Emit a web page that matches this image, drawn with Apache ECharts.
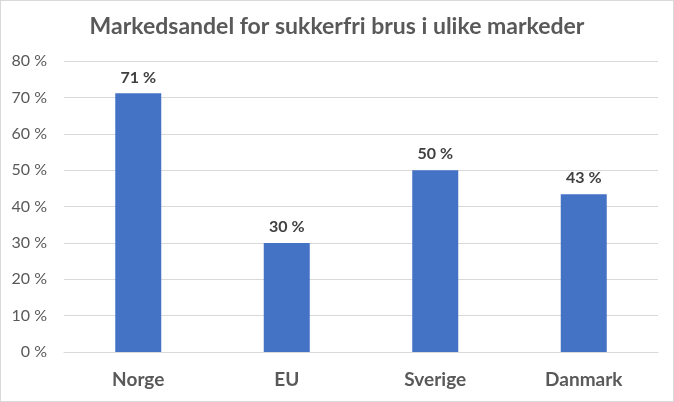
<!DOCTYPE html>
<html>
<head>
<meta charset="utf-8">
<script src="https://cdn.jsdelivr.net/npm/echarts@6/dist/echarts.min.js"></script>
<style>
  html, body { margin: 0; padding: 0; background: #fff; }
  #chart { width: 672px; height: 400px; border: 1px solid #d9d9d9; }
</style>
</head>
<body>
<div id="chart"></div>
<script>
// markets and share of sugar-free soda (percent)
const markets = ["Norge", "EU", "Sverige", "Danmark"];
const shares = [71.1, 30, 50, 43.4];
const shareLabels = ["71 %", "30 %", "50 %", "43 %"];

const chart = echarts.init(document.getElementById("chart"));
chart.setOption({
  animation: false,
  textStyle: { fontFamily: "Lato" },
  title: {
    text: "Markedsandel for sukkerfri brus i ulike markeder",
    left: "center",
    top: 9,
    textStyle: { fontSize: 23, fontWeight: "bold", color: "#595959", fontFamily: "Lato" }
  },
  grid: { left: 63, right: 15, top: 60, bottom: 49 },
  xAxis: {
    type: "category",
    data: markets,
    axisLine: { lineStyle: { color: "#d9d9d9" } },
    axisTick: { show: false },
    axisLabel: { fontSize: 19, fontWeight: "bold", color: "#595959", margin: 18 }
  },
  yAxis: {
    type: "value",
    min: 0,
    max: 80,
    interval: 10,
    axisLine: { show: false },
    axisTick: { show: false },
    splitLine: { lineStyle: { color: "#d9d9d9" } },
    axisLabel: { fontSize: 16, color: "#595959", margin: 17, formatter: v => v + " %" }
  },
  series: [{
    type: "bar",
    data: shares,
    barWidth: 46,
    itemStyle: { color: "#4472C4" },
    label: {
      show: true,
      position: "top",
      distance: 8,
      fontSize: 16,
      fontWeight: "bold",
      color: "#404040",
      formatter: p => shareLabels[p.dataIndex]
    }
  }]
});
</script>
</body>
</html>
